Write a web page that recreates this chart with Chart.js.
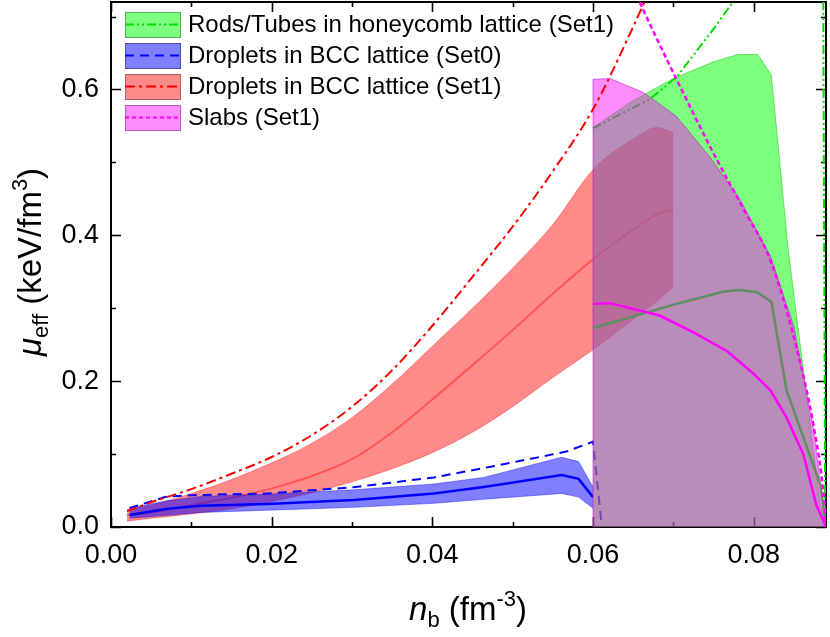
<!DOCTYPE html>
<html>
<head>
<meta charset="utf-8">
<script src="https://cdn.jsdelivr.net/npm/chart.js@4/dist/chart.umd.min.js"></script>
<style>
  body { margin: 0; background: #fff; }
  #wrap { width: 830px; height: 637px; }
</style>
</head>
<body>
<div id="wrap"><canvas id="chart" width="830" height="637"></canvas></div>
<script>
// tick values
const xTickVals = [0, 0.02, 0.04, 0.06, 0.08];
const yTickVals = [0, 0.2, 0.4, 0.6];

// Droplets in BCC lattice (Set1) - band + mean
const redX    = [0.002, 0.005, 0.01, 0.015, 0.02, 0.025, 0.03, 0.035, 0.04, 0.045, 0.05, 0.055, 0.06, 0.065, 0.068, 0.07];
const redLow  = [0.008, 0.012, 0.018, 0.025, 0.035, 0.047, 0.062, 0.080, 0.102, 0.130, 0.165, 0.205, 0.243, 0.285, 0.310, 0.330];
const redHigh = [0.024, 0.030, 0.046, 0.065, 0.088, 0.115, 0.150, 0.196, 0.248, 0.300, 0.355, 0.415, 0.490, 0.532, 0.548, 0.541];
const redMid  = [0.016, 0.020, 0.030, 0.040, 0.053, 0.070, 0.093, 0.130, 0.175, 0.222, 0.270, 0.320, 0.367, 0.408, 0.429, 0.435];
// Droplets in BCC lattice (Set1) - dash-dot
const redDdX = [0.002, 0.005, 0.01, 0.015, 0.02, 0.025, 0.03, 0.035, 0.04, 0.045, 0.05, 0.055, 0.06, 0.065, 0.068];
const redDd  = [0.022, 0.034, 0.052, 0.073, 0.096, 0.126, 0.165, 0.215, 0.276, 0.343, 0.412, 0.488, 0.573, 0.686, 0.760];

// Droplets in BCC lattice (Set0)
const blueX    = [0.0023, 0.0070, 0.0112, 0.0195, 0.0302, 0.0402, 0.0464, 0.0561, 0.0582, 0.06];
const blueLow  = [0.012, 0.016, 0.020, 0.023, 0.027, 0.0325, 0.038, 0.046, 0.041, 0.0257];
const blueHigh = [0.026, 0.036, 0.042, 0.045, 0.051, 0.059, 0.068, 0.0957, 0.0897, 0.055];
const blueMid  = [0.0165, 0.025, 0.029, 0.0316, 0.037, 0.046, 0.055, 0.0714, 0.066, 0.041];
const blueDashX = [0.0023, 0.0070, 0.0112, 0.0195, 0.0302, 0.0402, 0.0484, 0.0567, 0.06, 0.0611];
const blueDash  = [0.026, 0.042, 0.044, 0.046, 0.0545, 0.068, 0.085, 0.1035, 0.117, 0.0];

// Rods/Tubes in honeycomb lattice (Set1)
const greenX    = [0.06, 0.065, 0.07, 0.075, 0.078, 0.0805, 0.0822, 0.0843, 0.0883, 0.089];
const greenHigh = [0.548, 0.585, 0.615, 0.638, 0.648, 0.648, 0.620, 0.380, 0.030, 0];
const greenMidX = [0.06, 0.0663, 0.0704, 0.0763, 0.0783, 0.0804, 0.0822, 0.0841, 0.0883, 0.089];
const greenMid  = [0.273, 0.293, 0.306, 0.323, 0.325, 0.322, 0.309, 0.187, 0.058, 0];
const greenDdX  = [0.06, 0.0671, 0.0704, 0.075, 0.08, 0.085, 0.0884, 0.0889];
const greenDd   = [0.547, 0.587, 0.617, 0.683, 0.76, 0.95, 1.5, 0];

// Slabs (Set1)
const magX    = [0.06, 0.06, 0.0621, 0.0663, 0.0704, 0.0745, 0.0783, 0.0821, 0.085, 0.0874, 0.089];
const magHigh = [0, 0.614, 0.615, 0.596, 0.563, 0.508, 0.449, 0.371, 0.275, 0.137, 0];
const magMidX = [0.06, 0.0621, 0.0683, 0.0725, 0.0767, 0.08, 0.0821, 0.0841, 0.0862, 0.0878, 0.089];
const magMid  = [0.306, 0.307, 0.290, 0.267, 0.241, 0.210, 0.187, 0.150, 0.099, 0.030, 0];
const magDotX = [0.063, 0.0658, 0.0692, 0.0754, 0.0788, 0.0821, 0.085, 0.0875, 0.0887, 0.089];
const magDot  = [0.79, 0.72, 0.641, 0.504, 0.435, 0.365, 0.26, 0.136, 0.044, 0];

const legendItems = [
  { text: 'Rods/Tubes in honeycomb lattice (Set1)', fill: 'rgba(0,255,0,0.5)', edge: '#55b055', line: '#00dd00', dash: [9, 3, 2, 3, 2, 3] },
  { text: 'Droplets in BCC lattice (Set0)', fill: 'rgba(0,0,255,0.5)', edge: '#5050b0', line: '#0000ff', dash: [9, 6] },
  { text: 'Droplets in BCC lattice (Set1)', fill: 'rgba(255,0,0,0.46)', edge: '#b06060', line: '#ff0000', dash: [10, 4, 3, 4] },
  { text: 'Slabs (Set1)', fill: 'rgba(255,0,255,0.45)', edge: '#b060b0', line: '#ff00ff', dash: [4, 3] }
];

const FONT = '"Liberation Sans", Arial, sans-serif';

function pts(xs, ys) {
  return xs.map((x, i) => ({ x: x, y: ys[i] }));
}

function line(data, color, width, dash, order, extra) {
  return Object.assign({
    data: data, borderColor: color, borderWidth: width, borderDash: dash || [],
    pointRadius: 0, fill: false, order: order, tension: 0
  }, extra || {});
}

const smooth = { cubicInterpolationMode: 'monotone' };

const datasets = [
  line(pts(redX, redLow), 'rgba(255,0,0,0.35)', 1, [], 20, smooth),
  line(pts(redX, redHigh), 'rgba(255,0,0,0.35)', 1, [], 19, Object.assign({ fill: '-1', backgroundColor: 'rgba(255,0,0,0.46)' }, smooth)),
  line(pts(redX, redMid), 'rgba(255,30,30,0.5)', 2, [], 18, smooth),
  line(pts(blueX, blueLow), 'rgba(0,0,255,0.4)', 1, [], 17),
  line(pts(blueX, blueHigh), 'rgba(0,0,255,0.4)', 1, [], 16, { fill: '-1', backgroundColor: 'rgba(0,0,255,0.5)' }),
  line(pts(blueX, blueMid), '#0000ff', 2.5, [], 15),
  line(pts(blueDashX, blueDash), '#0000ff', 2, [9, 6], 14),
  line(pts(greenX, greenHigh), 'rgba(0,200,0,0.5)', 1, [], 13, { fill: 'origin', backgroundColor: 'rgba(0,255,0,0.5)' }),
  line(pts(greenDdX, greenDd), '#00dd00', 2, [9, 3, 2, 3, 2, 3], 12),
  line(pts(magX, magHigh), 'rgba(170,0,200,0.5)', 1, [], 11, { fill: 'origin', backgroundColor: 'rgba(255,0,255,0.45)' }),
  line(pts(greenMidX, greenMid), '#5f8f5f', 2.5, [], 10),
  line(pts(magMidX, magMid), '#ff00ff', 2.5, [], 9),
  line(pts(magDotX, magDot), '#ff00ff', 2.5, [5, 3], 8, smooth),
  line(pts(redDdX, redDd), '#ff0000', 2, [10, 4, 3, 4], 7, smooth)
];

// draw rich text (sub/superscript) centred at x, baseline y
function drawRich(ctx, parts, x, y, size) {
  const fontOf = p => (p.it ? 'italic ' : '') + ((p.sub || p.sup) ? Math.round(size * 0.68) : size) + 'px ' + FONT;
  let w = 0;
  parts.forEach(p => { ctx.font = fontOf(p); w += ctx.measureText(p.t).width; });
  let cx = x - w / 2;
  ctx.textAlign = 'left';
  ctx.textBaseline = 'alphabetic';
  ctx.fillStyle = '#000';
  parts.forEach(p => {
    ctx.font = fontOf(p);
    let dy = 0;
    if (p.sub) dy = size * 0.22;
    if (p.sup) dy = -size * 0.42;
    ctx.fillText(p.t, cx, y + dy);
    cx += ctx.measureText(p.t).width;
  });
}

// no label overhang padding, plot area is fixed by layout
function noPad(s) {
  s.paddingTop = 0; s.paddingBottom = 0; s.paddingLeft = 0; s.paddingRight = 0;
}

const framePlugin = {
  id: 'frame',
  beforeDatasetsDraw(chart) {
    const { ctx, chartArea: a, scales } = chart;
    ctx.save();
    ctx.strokeStyle = '#000';
    ctx.lineWidth = 2;
    ctx.setLineDash([]);
    ctx.strokeRect(a.left, a.top, a.right - a.left, a.bottom - a.top);
    ctx.lineWidth = 1.6;
    ctx.beginPath();
    for (let v = 0; v <= 0.0891; v += 0.01) {
      const px = Math.round(scales.x.getPixelForValue(v)) + 0.5;
      const len = (Math.round(v * 100) % 2 === 0) ? 10 : 5;
      ctx.moveTo(px, a.bottom); ctx.lineTo(px, a.bottom - len);
      ctx.moveTo(px, a.top); ctx.lineTo(px, a.top + len);
    }
    for (let v = 0; v <= 0.72; v += 0.1) {
      const py = Math.round(scales.y.getPixelForValue(v)) + 0.5;
      const len = (Math.round(v * 10) % 2 === 0) ? 10 : 5;
      ctx.moveTo(a.left, py); ctx.lineTo(a.left + len, py);
      ctx.moveTo(a.right, py); ctx.lineTo(a.right - len, py);
    }
    ctx.stroke();
    ctx.restore();
  },
  afterDraw(chart) {
    const { ctx } = chart;
    ctx.save();
    // legend
    legendItems.forEach((it, i) => {
      const top = 12 + i * 31;
      ctx.fillStyle = it.fill;
      ctx.fillRect(125, top, 55, 25);
      ctx.strokeStyle = it.edge;
      ctx.lineWidth = 1;
      ctx.setLineDash([]);
      ctx.strokeRect(125.5, top + 0.5, 55, 25);
      ctx.strokeStyle = it.line;
      ctx.lineWidth = 2;
      ctx.setLineDash(it.dash);
      ctx.beginPath();
      ctx.moveTo(125, top + 12.5);
      ctx.lineTo(181, top + 12.5);
      ctx.stroke();
      ctx.setLineDash([]);
      ctx.fillStyle = '#000';
      ctx.font = '24px ' + FONT;
      ctx.textAlign = 'left';
      ctx.textBaseline = 'middle';
      ctx.fillText(it.text, 188, top + 13);
    });
    // axis titles
    drawRich(ctx, [{ t: 'n', it: true }, { t: 'b', sub: true }, { t: ' (fm' }, { t: '-3', sup: true }, { t: ')' }], 468, 620, 33);
    ctx.translate(41, 262);
    ctx.rotate(-Math.PI / 2);
    drawRich(ctx, [{ t: 'μ', it: true }, { t: 'eff', sub: true }, { t: ' (keV/fm' }, { t: '3', sup: true }, { t: ')' }], 0, 0, 33);
    ctx.restore();
  }
};

new Chart(document.getElementById('chart').getContext('2d'), {
  type: 'line',
  data: { datasets },
  options: {
    responsive: false,
    animation: false,
    events: [],
    layout: { padding: { left: 0, top: 2, right: 4, bottom: 0 } },
    plugins: { legend: { display: false }, tooltip: { enabled: false } },
    scales: {
      x: {
        type: 'linear', min: 0, max: 0.089,
        afterBuildTicks: s => { s.ticks = xTickVals.map(v => ({ value: v })); },
        afterFit: s => { s.height = 110; noPad(s); },
        ticks: { callback: v => v.toFixed(2), font: { size: 27, family: FONT }, color: '#000', padding: 12, maxRotation: 0, autoSkip: false },
        grid: { display: false, drawTicks: false },
        border: { display: false }
      },
      y: {
        type: 'linear', min: 0, max: 0.72,
        afterBuildTicks: s => { s.ticks = yTickVals.map(v => ({ value: v })); },
        afterFit: s => { s.width = 111; noPad(s); },
        ticks: { callback: v => v.toFixed(1), font: { size: 27, family: FONT }, color: '#000', padding: 12 },
        grid: { display: false, drawTicks: false },
        border: { display: false }
      }
    }
  },
  plugins: [framePlugin]
});
</script>
</body>
</html>
